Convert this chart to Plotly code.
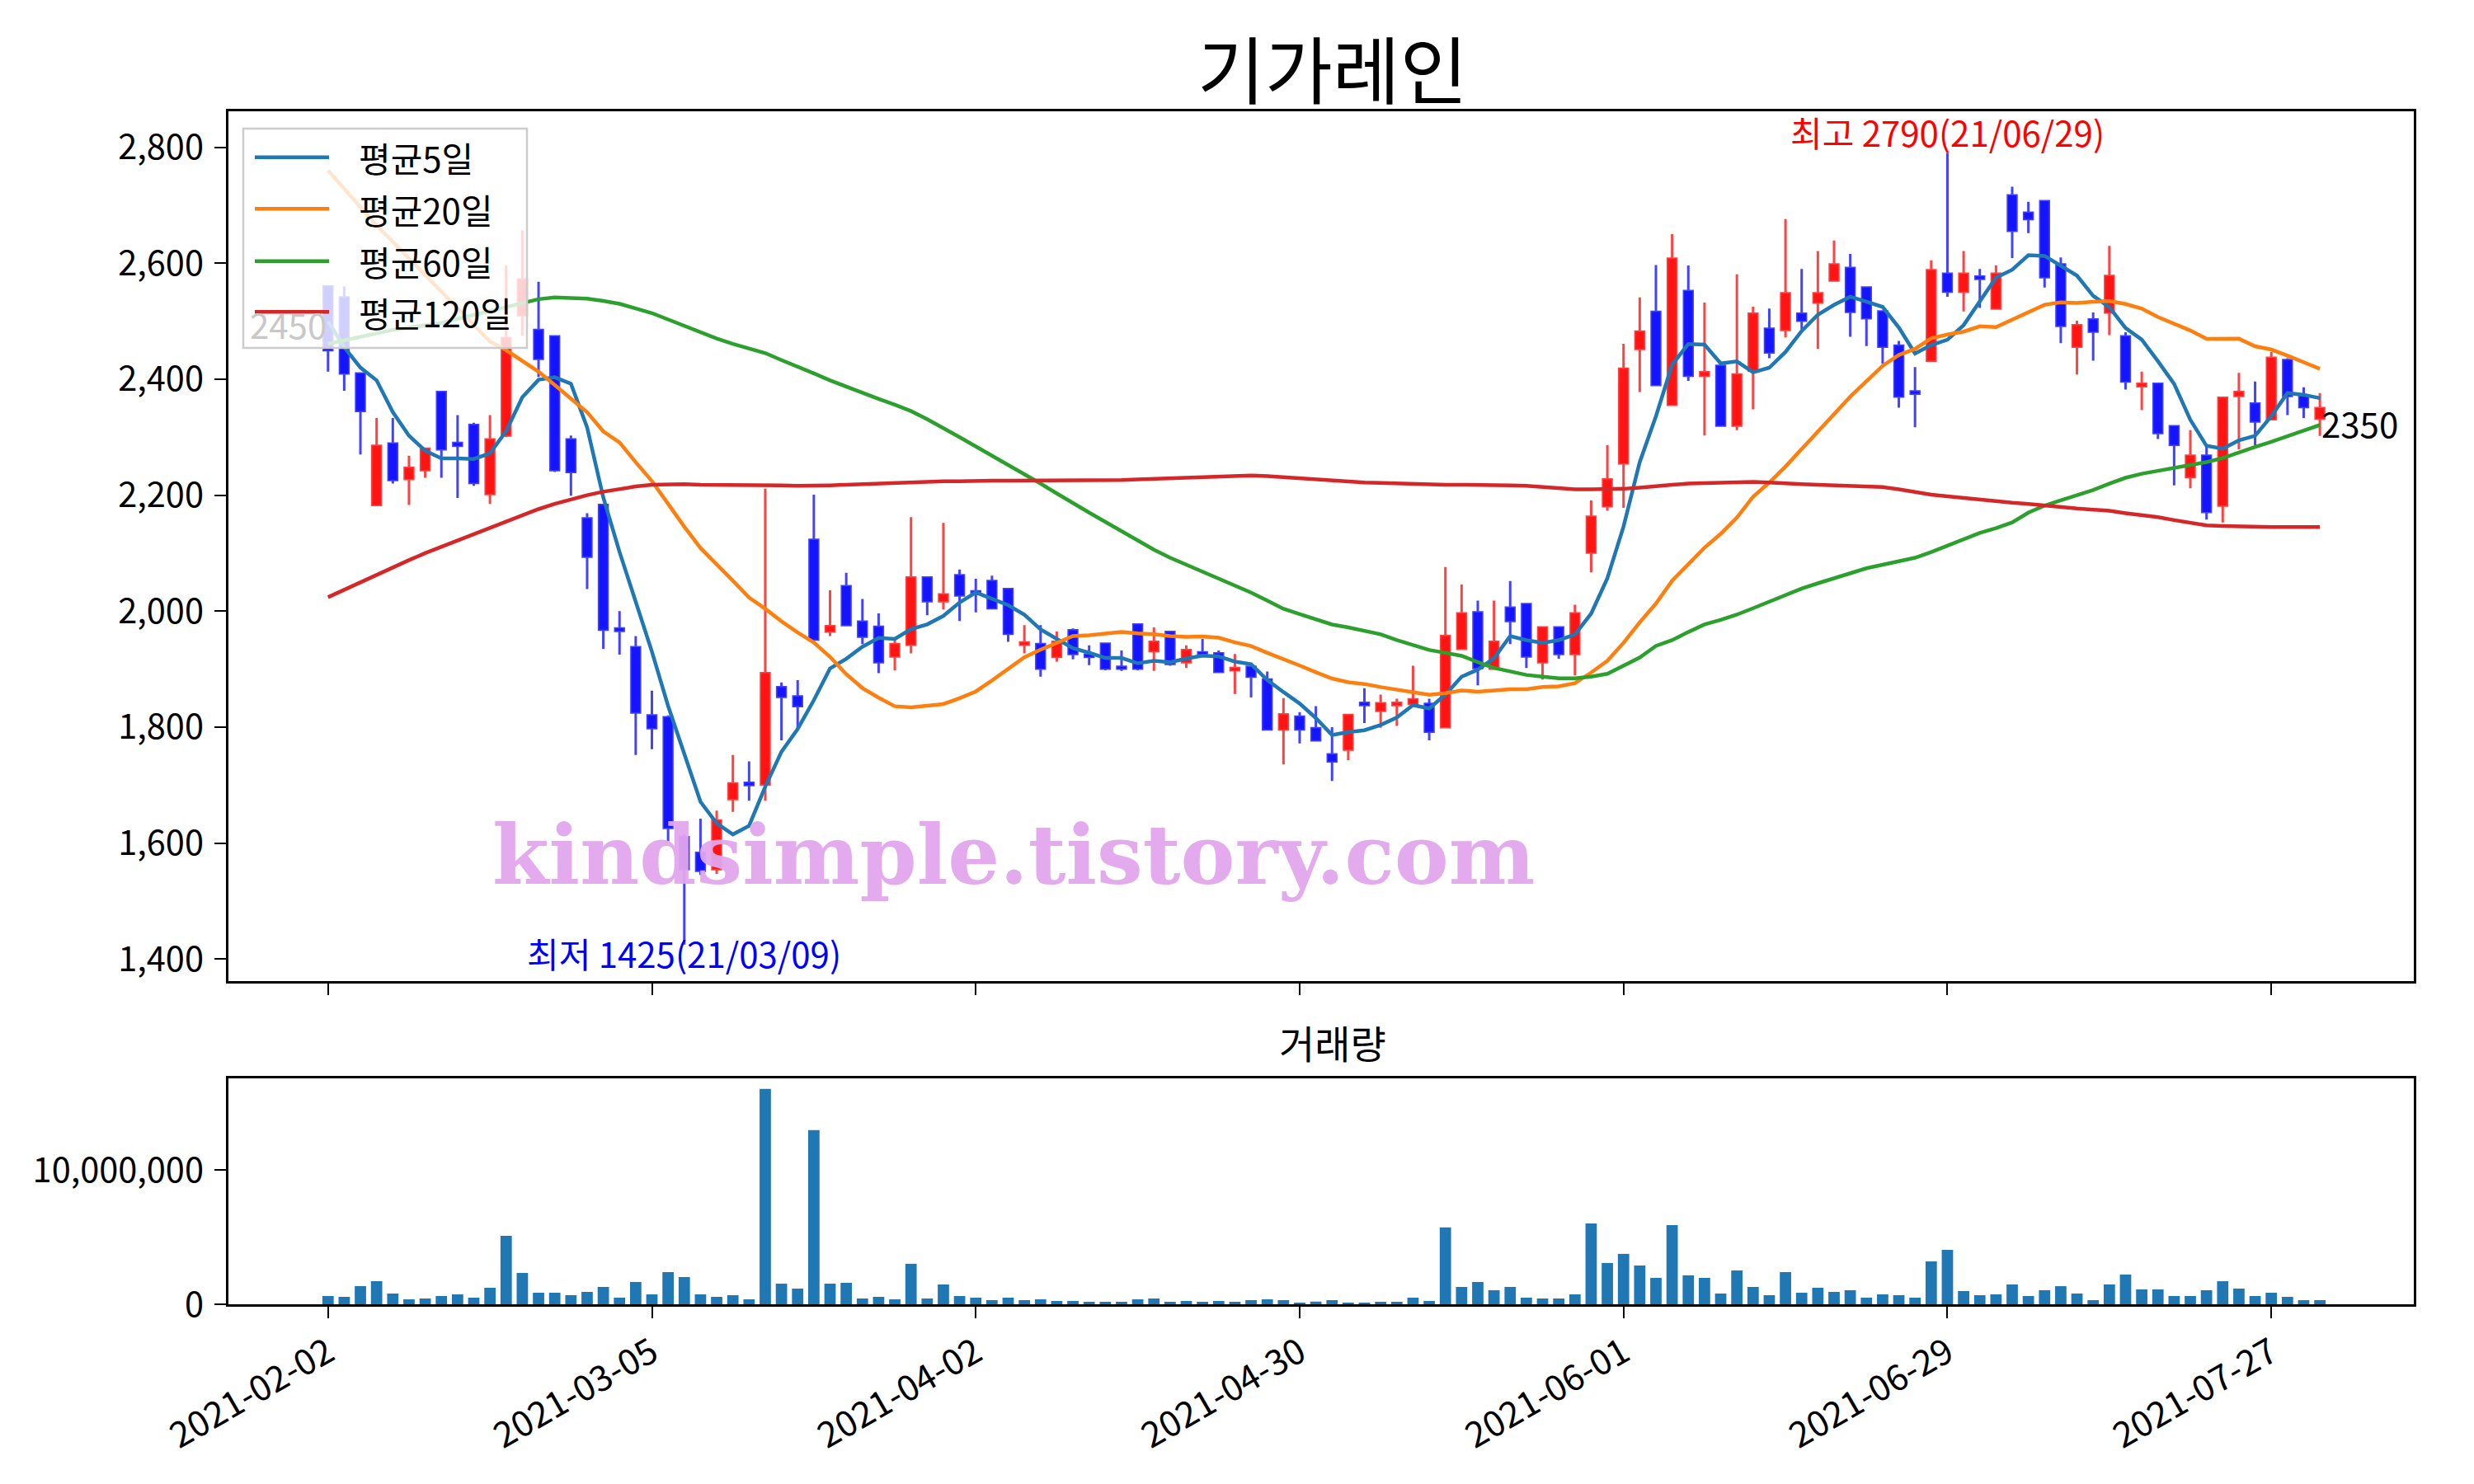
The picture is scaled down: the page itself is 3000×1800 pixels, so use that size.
import plotly.graph_objects as go
import numpy as np

# ---------------- data ----------------
feb = ["02","03","04","05","08","09","10","15","16","17","18","19","22","23","24","25","26"]
mar = ["02","03","04","05","08","09","10","11","12","15","16","17","18","19","22","23","24","25","26","29","30","31"]
apr = ["01","02","05","06","07","08","09","12","13","14","15","16","19","20","21","22","23","26","27","28","29","30"]
may = ["03","04","06","07","10","11","12","13","14","17","18","20","21","24","25","26","27","28","31"]
jun = ["01","02","03","04","07","08","09","10","11","14","15","16","17","18","21","22","23","24","25","28","29","30"]
jul = ["01","02","05","06","07","08","09","12","13","14","15","16","19","20","21","22","23","26","27","28","29","30"]
dates = ([f"2021-02-{d}" for d in feb] + [f"2021-03-{d}" for d in mar] + [f"2021-04-{d}" for d in apr]
         + [f"2021-05-{d}" for d in may] + [f"2021-06-{d}" for d in jun] + [f"2021-07-{d}" for d in jul])

opens = [2560,2541,2410,2183,2289,2228,2243,2378,2290,2321,2202,2303,2510,2485,2474,2296,2160,2183,1970,1938,
         1820,1817,1610,1583,1555,1676,1704,1701,1869,1853,2123,1965,2043,1982,1973,1922,1942,2058,2017,2062,
         2034,2052,2038,1942,1943,1921,1967,1925,1944,1904,1977,1931,1964,1912,1929,1927,1898,1904,1882,1796,
         1818,1798,1753,1761,1842,1828,1838,1840,1840,1800,1935,1998,1901,2006,2012,1912,1972,1926,2101,2181,
         2255,2452,2516,2356,2552,2406,2423,2320,2415,2487,2485,2513,2532,2570,2592,2558,2517,2458,2379,2432,
         2582,2551,2577,2522,2717,2687,2707,2598,2456,2503,2515,2474,2388,2392,2319,2231,2268,2182,2371,2358,
         2331,2433,2371,2332]
highs = [2562,2560,2412,2333,2333,2268,2282,2380,2338,2325,2338,2596,2657,2568,2476,2303,2169,2185,2000,1957,
         1863,1820,1615,1642,1656,1752,1741,2211,1877,1881,2201,2036,2066,2021,1996,1950,2162,2060,2152,2072,
         2056,2061,2040,1976,1976,1965,1970,1941,1946,1932,1978,1972,1966,1941,1952,1932,1926,1906,1896,1850,
         1826,1836,1800,1823,1867,1856,1849,1906,1849,2076,2046,2018,2018,2052,2014,1974,1974,2011,2191,2286,
         2461,2541,2597,2650,2596,2532,2425,2581,2525,2522,2676,2590,2621,2639,2616,2560,2519,2466,2421,2605,
         2790,2621,2590,2596,2732,2706,2709,2610,2501,2515,2630,2481,2413,2394,2320,2312,2283,2370,2411,2396,
         2447,2436,2386,2376]
lows = [2413,2380,2270,2183,2220,2183,2230,2230,2195,2216,2185,2300,2475,2404,2240,2199,2038,1935,1925,1752,
        1762,1603,1425,1545,1547,1654,1673,1673,1777,1797,1948,1957,1974,1943,1893,1898,1927,1993,2003,1983,
        1998,2003,1947,1927,1887,1913,1917,1907,1898,1897,1898,1897,1906,1902,1924,1893,1857,1851,1795,1736,
        1772,1775,1707,1743,1807,1799,1802,1838,1777,1798,1933,1872,1899,1943,1902,1882,1918,1889,2067,2173,
        2178,2378,2388,2354,2397,2303,2318,2312,2348,2436,2472,2486,2452,2568,2473,2457,2427,2351,2317,2430,
        2542,2517,2523,2520,2609,2652,2558,2462,2408,2432,2476,2382,2347,2297,2217,2212,2158,2153,2279,2286,
        2329,2338,2333,2302]
closes = [2450,2410,2345,2285,2226,2247,2280,2279,2285,2221,2296,2471,2572,2435,2243,2240,2094,1968,1966,1825,
          1798,1626,1555,1552,1639,1703,1700,1893,1852,1836,1951,1974,1976,1956,1912,1943,2058,2017,2029,2027,
          2030,2005,1961,1946,1901,1947,1926,1921,1901,1901,1901,1947,1909,1933,1926,1895,1902,1887,1796,1822,
          1796,1777,1741,1821,1838,1841,1842,1848,1792,1957,1996,1902,1947,1983,1922,1972,1926,1996,2163,2227,
          2418,2482,2390,2608,2406,2412,2320,2408,2513,2446,2548,2501,2548,2598,2516,2505,2456,2370,2375,2588,
          2551,2582,2573,2582,2656,2676,2576,2492,2493,2482,2578,2396,2392,2307,2287,2268,2171,2368,2378,2327,
          2437,2371,2352,2350]
volumes = [616e3,554e3,1355e3,1724e3,800e3,369e3,431e3,616e3,739e3,493e3,1232e3,5110e3,2340e3,862e3,862e3,677e3,924e3,1293e3,493e3,1663e3,
           739e3,2400e3,2030e3,739e3,554e3,677e3,369e3,16070e3,1540e3,1170e3,12990e3,1540e3,1600e3,431e3,554e3,369e3,3020e3,431e3,1478e3,616e3,
           493e3,308e3,493e3,308e3,369e3,246e3,246e3,185e3,185e3,185e3,369e3,431e3,185e3,246e3,185e3,246e3,185e3,308e3,369e3,308e3,
           62e3,200e3,308e3,123e3,123e3,185e3,185e3,493e3,246e3,5730e3,1290e3,1660e3,1050e3,1290e3,493e3,431e3,431e3,739e3,6030e3,3080e3,
           3760e3,2890e3,1970e3,5910e3,2160e3,1970e3,800e3,2520e3,1290e3,677e3,2400e3,862e3,1230e3,924e3,1050e3,493e3,739e3,677e3,493e3,3200e3,
           4060e3,985e3,677e3,739e3,1480e3,616e3,1050e3,1350e3,800e3,308e3,1480e3,2220e3,1110e3,1110e3,616e3,616e3,1050e3,1720e3,1170e3,616e3,
           862e3,554e3,308e3,308e3]

# moving-average values before enough in-window closes exist
ma5_head = [2500, 2455, 2420, 2398]
ma20_head = [2760, 2728, 2697, 2665, 2637, 2608, 2580, 2551, 2522, 2494, 2465, 2450, 2432, 2413, 2390, 2367, 2343, 2310, 2291]
ma60 = [2461,2467,2473,2479,2485,2489,2493,2497,2504,2511,2518,2525,2532,2538,2541,2540,2539,2535,2530,2522,
        2514,2503,2492,2481,2470,2461,2453,2445,2433,2422,2410,2398,2387,2376,2366,2356,2345,2331,2316,2300,
        2284,2268,2253,2237,2220,2203,2186,2170,2154,2138,2122,2106,2092,2080,2068,2055,2043,2032,2018,2004,
        1995,1986,1977,1972,1966,1960,1950,1942,1933,1928,1923,1912,1902,1896,1890,1887,1884,1884,1887,1892,
        1906,1920,1940,1950,1964,1977,1985,1994,2005,2016,2028,2039,2048,2057,2066,2074,2080,2086,2092,2102,
        2113,2124,2135,2143,2153,2170,2182,2191,2200,2209,2220,2230,2237,2242,2247,2252,2257,2264,2274,2283,
        2292,2302,2312,2321]
ma120 = [2024,2037,2050,2063,2076,2088,2100,2111,2122,2133,2144,2155,2166,2176,2185,2193,2200,2206,2211,2215,
         2218,2219,2219,2218,2218,2218,2217,2218,2217,2216,2216,2217,2218,2219,2220,2222,2223,2224,2224,2224,
         2225,2225,2225,2225,2225,2225,2225,2226,2226,2226,2227,2228,2229,2231,2232,2233,2234,2234,2233,2231,
         2229,2227,2225,2223,2222,2221,2220,2219,2218,2218,2218,2218,2218,2217,2216,2214,2212,2210,2210,2210,
         2211,2213,2216,2218,2220,2221,2222,2222,2223,2222,2220,2219,2218,2217,2216,2215,2214,2210,2205,2201,
         2198,2195,2192,2190,2187,2185,2182,2180,2177,2175,2173,2169,2166,2162,2157,2152,2148,2147,2146,2145,
         2145,2145,2145,2145]

tick_idx = [0, 20, 40, 60, 80, 100, 120]
price_ticks = [1400, 1600, 1800, 2000, 2200, 2400, 2600, 2800]
volume_ticks = [0, 10_000_000]
title = "기가레인"
volume_title = "거래량"
watermark = "kindsimple.tistory.com"
ma_names = ["평균5일", "평균20일", "평균60일", "평균120일"]
ma_colors = ["#1f77b4", "#ff7f0e", "#2ca02c", "#d62728"]

# ---------------- derived ----------------
n = len(closes)
x = list(range(n))
c = np.array(closes, dtype=float)
ma5 = list(ma5_head) + [c[i-4:i+1].mean() for i in range(4, n)]
ma20 = list(ma20_head) + [c[i-19:i+1].mean() for i in range(19, n)]
i_hi = int(np.argmax(highs)); i_lo = int(np.argmin(lows))
def short(d):
    return d[2:].replace("-", "/")

W, H = 3000, 1800
OFF = 8  # default page body margin in the written html
def px(xp): return (xp - OFF) / W
def py(yp): return 1 - (yp - OFF) / H

FONT = "Noto Sans CJK KR"
fig = go.Figure()

fig.add_trace(go.Candlestick(
    x=x, open=opens, high=highs, low=lows, close=closes,
    increasing=dict(line=dict(color="rgba(255,25,25,0.82)", width=3), fillcolor="rgba(255,0,0,0.92)"),
    decreasing=dict(line=dict(color="rgba(25,25,255,0.82)", width=3), fillcolor="rgba(0,0,255,0.92)"),
    whiskerwidth=0, showlegend=False, xaxis="x", yaxis="y", hoverinfo="skip"))

for name, vals, col in zip(ma_names, [ma5, ma20, ma60, ma120], ma_colors):
    fig.add_trace(go.Scatter(x=x, y=vals, mode="lines", name=name, showlegend=False,
                             line=dict(color=col, width=4.5), xaxis="x", yaxis="y"))

fig.add_trace(go.Bar(x=x, y=volumes, marker=dict(color="#1f77b4", line=dict(width=0)),
                     width=0.7, showlegend=False, xaxis="x2", yaxis="y2"))

XDOM = [px(277), px(2927)]
XR = [-6.15, 128.8]
axis_common = dict(showline=True, mirror=True, linecolor="black", linewidth=2.5,
                   ticks="outside", ticklen=14, tickwidth=2, tickcolor="black",
                   showgrid=False, zeroline=False, automargin=False)
yfont = dict(family=FONT, size=41.5, color="black")
xfont = dict(family=FONT, size=43, color="black")

fig.update_layout(
    width=W, height=H, margin=dict(l=0, r=0, t=0, b=0, autoexpand=False),
    paper_bgcolor="white", plot_bgcolor="white",
    font=dict(family=FONT, color="black"),
    showlegend=False, boxgap=0.24,
    xaxis=dict(domain=XDOM, range=XR, anchor="y", tickvals=tick_idx, showticklabels=False,
               rangeslider=dict(visible=False), **axis_common),
    yaxis=dict(domain=[py(1190), py(135)], range=[1362, 2862], anchor="x",
               tickvals=price_ticks, tickformat=",d", tickfont=yfont, ticklabelstandoff=5, **axis_common),
    xaxis2=dict(domain=XDOM, range=XR, anchor="y2", tickvals=tick_idx, tickfont=xfont,
                ticktext=[dates[i] for i in tick_idx], tickangle=-30, **axis_common),
    yaxis2=dict(domain=[py(1582), py(1308)], range=[0, 16.85e6], anchor="x2",
                tickvals=volume_ticks, tickformat=",d", tickfont=yfont, ticklabelstandoff=5, **axis_common),
)

# ---- custom legend (box drawn above traces, semi-transparent like matplotlib) ----
shapes = [dict(type="rect", xref="paper", yref="paper", x0=px(295), x1=px(639), y0=py(422), y1=py(156),
               fillcolor="rgba(255,255,255,0.8)", line=dict(color="#cccccc", width=2.5), layer="above")]
row_y = [190.7, 253.3, 316.7, 378.3]
annos = []
for name, col, ry in zip(ma_names, ma_colors, row_y):
    shapes.append(dict(type="line", xref="paper", yref="paper", x0=px(309), x1=px(399), y0=py(ry), y1=py(ry),
                       line=dict(color=col, width=4.5), layer="above"))
    annos.append(dict(text=name, x=px(433), y=py(ry), xref="paper", yref="paper", showarrow=False,
                      font=dict(family=FONT, size=42, color="black"), xanchor="left", yanchor="middle"))

CX = 1616
annos += [
    dict(text=title, x=px(CX), y=py(80), xref="paper", yref="paper", showarrow=False,
         font=dict(family=FONT, size=89, color="black"), xanchor="center", yanchor="middle"),
    dict(text=volume_title, x=px(CX), y=py(1263), xref="paper", yref="paper", showarrow=False,
         font=dict(family=FONT, size=47, color="black"), xanchor="center", yanchor="middle"),
    dict(text=f"최고 {highs[i_hi]}({short(dates[i_hi])})", x=i_hi, y=highs[i_hi], xref="x", yref="y",
         showarrow=False, font=dict(family=FONT, size=42, color="red"), xanchor="center", yanchor="bottom",
         yshift=-6),
    dict(text=f"최저 {lows[i_lo]}({short(dates[i_lo])})", x=i_lo, y=lows[i_lo], xref="x", yref="y",
         showarrow=False, font=dict(family=FONT, size=42, color="blue"), xanchor="center", yanchor="top",
         yshift=23),
    dict(text=f"{closes[0]}", x=0, y=closes[0], xref="x", yref="y", showarrow=False,
         font=dict(family=FONT, size=42, color="#c8c8c8"), xanchor="right", yanchor="bottom"),
    dict(text=f"{closes[-1]}", x=n-1, y=closes[-1], xref="x", yref="y", showarrow=False,
         font=dict(family=FONT, size=42, color="black"), xanchor="left", yanchor="top", yshift=15),
    dict(text=f"<b>{watermark}</b>", x=px(1229), y=py(1037), xref="paper", yref="paper",
         showarrow=False, font=dict(family="DejaVu Serif", size=99, color="rgba(225,165,236,0.95)"),
         xanchor="center", yanchor="middle"),
]
fig.update_layout(annotations=annos, shapes=shapes)

fig.write_html("out.html")
